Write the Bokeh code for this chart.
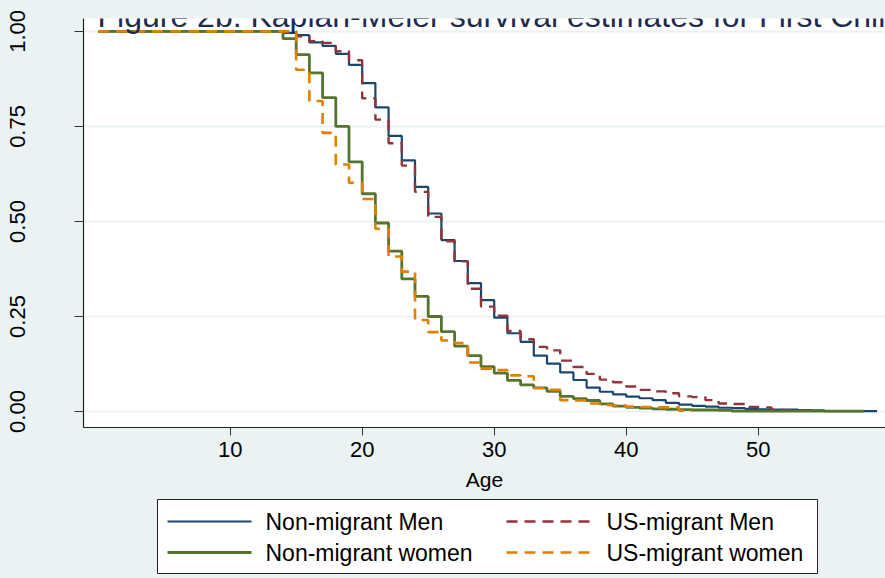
from bokeh.plotting import figure
from bokeh.layouts import column
from bokeh.models import Range1d, Label, FixedTicker
from bokeh.core.properties import value
from bokeh.embed import file_html
from bokeh.resources import INLINE

# ---------------- data ----------------
title_text = "Figure 2b: Kaplan-Meier survival estimates for First Child"
x_label = "Age"
x_ticks = [10, 20, 30, 40, 50]
y_ticks = [0.0, 0.25, 0.5, 0.75, 1.0]
y_tick_labels = ["0.00", "0.25", "0.50", "0.75", "1.00"]

series_names = ["Non-migrant Men", "US-migrant Men", "Non-migrant women", "US-migrant women"]

nm_men_age = [0, 14, 15, 16, 17, 18, 19, 20, 21, 22, 23, 24, 25, 26, 27, 28, 29, 30,
              31, 32, 33, 34, 35, 36, 37, 38, 39, 40, 41, 42, 43, 44, 45, 46, 47, 48,
              49, 50, 51, 52, 53, 54, 55, 56, 57, 58, 59]
nm_men_surv = [1.000, 0.996, 0.990, 0.971, 0.962, 0.941, 0.912, 0.864, 0.800, 0.725,
               0.661, 0.591, 0.521, 0.451, 0.396, 0.338, 0.293, 0.247, 0.206, 0.183,
               0.147, 0.126, 0.103, 0.083, 0.063, 0.052, 0.045, 0.039, 0.035, 0.030,
               0.023, 0.018, 0.015, 0.013, 0.010, 0.009, 0.007, 0.006, 0.005, 0.005,
               0.004, 0.003, 0.001, 0.001, 0.001, 0.001, 0.001]

us_men_age = [0, 15, 16, 17, 18, 19, 20, 21, 22, 23, 24, 25, 26, 27, 28, 29, 30, 31,
              32, 33, 34, 35, 36, 37, 38, 39, 40, 41, 42, 43, 44, 45, 46, 47, 48, 49,
              50, 51, 52, 53, 54]
us_men_surv = [1.000, 0.987, 0.974, 0.970, 0.948, 0.924, 0.824, 0.768, 0.706, 0.647,
               0.578, 0.512, 0.448, 0.395, 0.323, 0.276, 0.252, 0.212, 0.190, 0.170,
               0.161, 0.134, 0.117, 0.099, 0.084, 0.077, 0.066, 0.057, 0.053, 0.048,
               0.040, 0.038, 0.030, 0.021, 0.020, 0.012, 0.011, 0.004, 0.003, 0.002,
               0.002]

nm_women_age = [0, 14, 15, 16, 17, 18, 19, 20, 21, 22, 23, 24, 25, 26, 27, 28, 29, 30,
                31, 32, 33, 34, 35, 36, 37, 38, 39, 40, 41, 42, 43, 44, 45, 46, 47, 48,
                58]
nm_women_surv = [1.000, 0.981, 0.939, 0.891, 0.826, 0.750, 0.657, 0.573, 0.496, 0.422,
                 0.349, 0.303, 0.250, 0.210, 0.172, 0.147, 0.118, 0.101, 0.082, 0.070,
                 0.062, 0.053, 0.040, 0.034, 0.029, 0.020, 0.014, 0.011, 0.009, 0.007,
                 0.006, 0.005, 0.004, 0.004, 0.003, 0.001, 0.001]

us_women_age = [0, 15, 16, 17, 18, 19, 20, 21, 22, 23, 24, 25, 26, 27, 28, 29, 30, 31,
                32, 33, 34, 35, 36, 37, 38, 39, 40, 41, 42, 43, 44, 45]
us_women_surv = [1.000, 0.899, 0.817, 0.733, 0.650, 0.602, 0.559, 0.481, 0.408, 0.368,
                 0.241, 0.209, 0.187, 0.180, 0.129, 0.113, 0.109, 0.095, 0.093, 0.062,
                 0.057, 0.030, 0.029, 0.021, 0.017, 0.016, 0.013, 0.012, 0.011, 0.011,
                 0.002, 0.002]

# ---------------- styling ----------------
FONT = "Liberation Sans"
BG = "#EAF2F3"
C_NAVY, C_MAROON, C_GREEN, C_ORANGE = "#1a476f", "#90353b", "#55752f", "#e37e00"
DASH = "11 7"
STYLES = [dict(line_color=C_NAVY, line_width=2.2),
          dict(line_color=C_MAROON, line_width=2.4, line_dash=DASH),
          dict(line_color=C_GREEN, line_width=2.8),
          dict(line_color=C_ORANGE, line_width=2.6, line_dash=DASH)]

W, H_MAIN, H_LEG = 885, 498, 80
FRAME_LEFT = 83

p = figure(width=W, height=H_MAIN, output_backend="svg", toolbar_location=None,
           x_range=Range1d(-1.11, 59.64), y_range=Range1d(-0.042, 1.034),
           min_border_left=FRAME_LEFT, min_border_right=0, min_border_top=18,
           min_border_bottom=H_MAIN - 427, title=None)
p.background_fill_color = "white"
p.border_fill_color = BG
p.outline_line_color = None

# axes
p.xaxis.ticker = FixedTicker(ticks=x_ticks)
p.yaxis.ticker = FixedTicker(ticks=y_ticks)
p.yaxis.major_label_overrides = {t: s for t, s in zip(y_ticks, y_tick_labels)}
for ax in (p.xaxis[0], p.yaxis[0]):
    ax.axis_line_color = "#222222"
    ax.axis_line_width = 1.2
    ax.major_tick_line_color = "#333333"
    ax.major_tick_in = 0
    ax.minor_tick_line_color = None
    ax.major_label_text_font = FONT
    ax.major_label_text_font_size = "22px"
    ax.major_label_text_color = "black"
p.xaxis.major_tick_out = 8
p.yaxis.major_tick_out = 9
p.xaxis.major_label_standoff = 6
p.yaxis.major_label_orientation = "vertical"
p.yaxis.major_label_standoff = 49
p.xaxis.axis_label = x_label
p.xaxis.axis_label_text_font = FONT
p.xaxis.axis_label_text_font_style = "normal"
p.xaxis.axis_label_text_font_size = "21px"
p.xaxis.axis_label_text_color = "black"
p.xaxis.axis_label_standoff = 8

p.xgrid.visible = False
p.ygrid.grid_line_color = BG
p.ygrid.grid_line_width = 2

# survival curves (drawn in Stata order)
p.step(nm_men_age, nm_men_surv, mode="after", **STYLES[0])
p.step(us_men_age, us_men_surv, mode="after", **STYLES[1])
p.step(nm_women_age, nm_women_surv, mode="after", **STYLES[2])
p.step(us_women_age, us_women_surv, mode="after", **STYLES[3])

# title (partly cut at the top, as in the reference)
p.add_layout(Label(x=-0.05, y=1.0395, text=title_text, text_font=FONT,
                   text_font_size="32px", text_color="#1e2b4f",
                   text_baseline="alphabetic", text_align="left"))

# ---------------- legend strip below the plot (pixel-space figure) ----------------
q = figure(width=W, height=H_LEG, output_backend="svg", toolbar_location=None,
           x_range=Range1d(FRAME_LEFT, W), y_range=Range1d(H_MAIN + H_LEG, H_MAIN),
           min_border_left=FRAME_LEFT, min_border_right=0, min_border_top=0,
           min_border_bottom=0, title=None)
q.background_fill_color = BG
q.border_fill_color = BG
q.outline_line_color = None
q.axis.visible = False
q.grid.visible = False

# legend box
box_l, box_r, box_t, box_b = 157, 817, 499, 573
q.quad(left=[box_l], right=[box_r], top=[box_t], bottom=[box_b],
       fill_color="white", line_color="#222222", line_width=1)

# legend layout: two columns x two rows
col_glyph_x = [167, 506]
glyph_w = 84
col_text_x = [265, 606]
row_y = [521, 552]
slots = [(0, 0), (1, 0), (0, 1), (1, 1)]   # (column, row) for each series
for (c, r), s in zip(slots, STYLES):
    q.line([col_glyph_x[c], col_glyph_x[c] + glyph_w], [row_y[r], row_y[r]], **s)
q.text(x=[col_text_x[c] for c, r in slots], y=[row_y[r] for c, r in slots],
       text=series_names, text_font=value(FONT), text_font_size="23px",
       text_color="black", text_baseline="middle", text_align="left")

layout = column(p, q, spacing=0, styles={"background-color": BG})
open("out.html", "w").write(file_html(layout, INLINE))
